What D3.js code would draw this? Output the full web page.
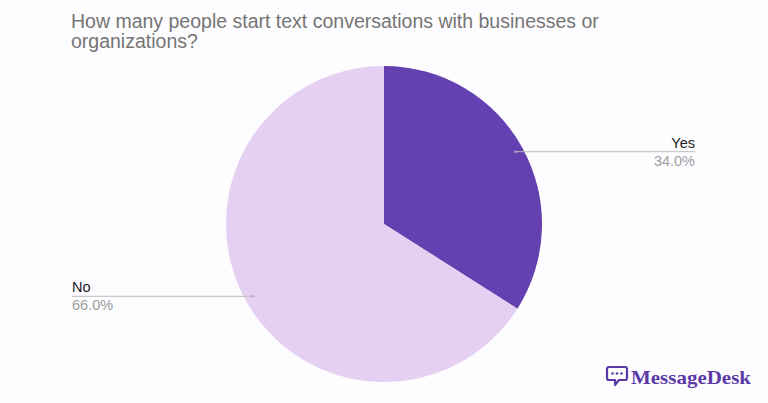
<!DOCTYPE html>
<html><head><meta charset="utf-8">
<script src="https://cdn.jsdelivr.net/npm/d3@7"></script>
<style>html,body{margin:0;padding:0;background:#fdfcfe;}svg{display:block;}</style>
</head><body>
<svg id="chart" width="768" height="403"></svg>
<script>
const categories = ["Yes", "No"];
const values = [34.0, 66.0];
const colors = ["#6440b0", "#e6d0f2"];
const titleLines = ["How many people start text conversations with businesses or", "organizations?"];

const svg = d3.select("#chart");
const W = 768, H = 403;
const cx = 384, cy = 224, r = 158;

svg.append("rect").attr("width", W).attr("height", H).attr("fill", "#fdfcfe");

const title = svg.append("text").attr("x", 71).attr("y", 28)
  .attr("font-family", "Liberation Sans, Arial, sans-serif").attr("font-size", 19.5).attr("fill", "#757575");
titleLines.forEach((t, i) => title.append("tspan").attr("x", 71).attr("y", 28 + i * 19.5).text(t));

const data = categories.map((c, i) => ({cat: c, value: values[i], color: colors[i]}));
const pie = d3.pie().value(d => d.value).sort(null);
const arc = d3.arc().innerRadius(0).outerRadius(r);
const arcs = pie(data);

const g = svg.append("g").attr("transform", `translate(${cx},${cy})`);
g.selectAll("path").data(arcs).join("path").attr("d", arc).attr("fill", d => d.data.color);

// labels with leader lines
const labelFont = "Liberation Sans, Arial, sans-serif";
const inner = d3.arc().innerRadius(r * 0.95).outerRadius(r * 0.95);
arcs.forEach(a => {
  const [px, py] = inner.centroid(a);
  const right = (a.startAngle + a.endAngle) / 2 < Math.PI;
  const ax = cx + px, ay = cy + py;
  const endX = right ? 695 : 72;
  svg.append("line").attr("x1", ax).attr("y1", ay).attr("x2", endX).attr("y2", ay)
    .attr("stroke", "#bdbdbd").attr("stroke-width", 1);
  svg.append("circle").attr("cx", ax).attr("cy", ay).attr("r", 1.3).attr("fill", "#b0a8c8");
  svg.append("text").attr("x", endX).attr("y", ay - 4).attr("text-anchor", right ? "end" : "start")
    .attr("font-family", labelFont).attr("font-size", 14.5).attr("fill", "#222").text(a.data.cat);
  svg.append("text").attr("x", endX).attr("y", ay + 14).attr("text-anchor", right ? "end" : "start")
    .attr("font-family", labelFont).attr("font-size", 14.5).attr("fill", "#9e9e9e")
    .text(d3.format(".1f")(a.data.value) + "%");
});

// logo
const logo = svg.append("g").attr("transform", "translate(606,366)");
logo.append("path")
  .attr("d", "M3,1 H19 Q21,1 21,3 V12 Q21,14 19,14 H13 L9,19 V14 H3 Q1,14 1,12 V3 Q1,1 3,1 Z")
  .attr("fill", "none").attr("stroke", "#5b3aa8").attr("stroke-width", 2.2).attr("stroke-linejoin", "round");
[6.5, 11, 15.5].forEach(x => logo.append("circle").attr("cx", x).attr("cy", 7.5).attr("r", 1.3).attr("fill", "#5b3aa8"));
svg.append("text").attr("x", 631).attr("y", 384)
  .attr("font-family", "Liberation Serif, DejaVu Serif, serif").attr("font-weight", "bold")
  .attr("font-size", 19).attr("fill", "#5b3aa8").attr("textLength", 120).attr("lengthAdjust", "spacingAndGlyphs")
  .text("MessageDesk");
</script>
</body></html>
